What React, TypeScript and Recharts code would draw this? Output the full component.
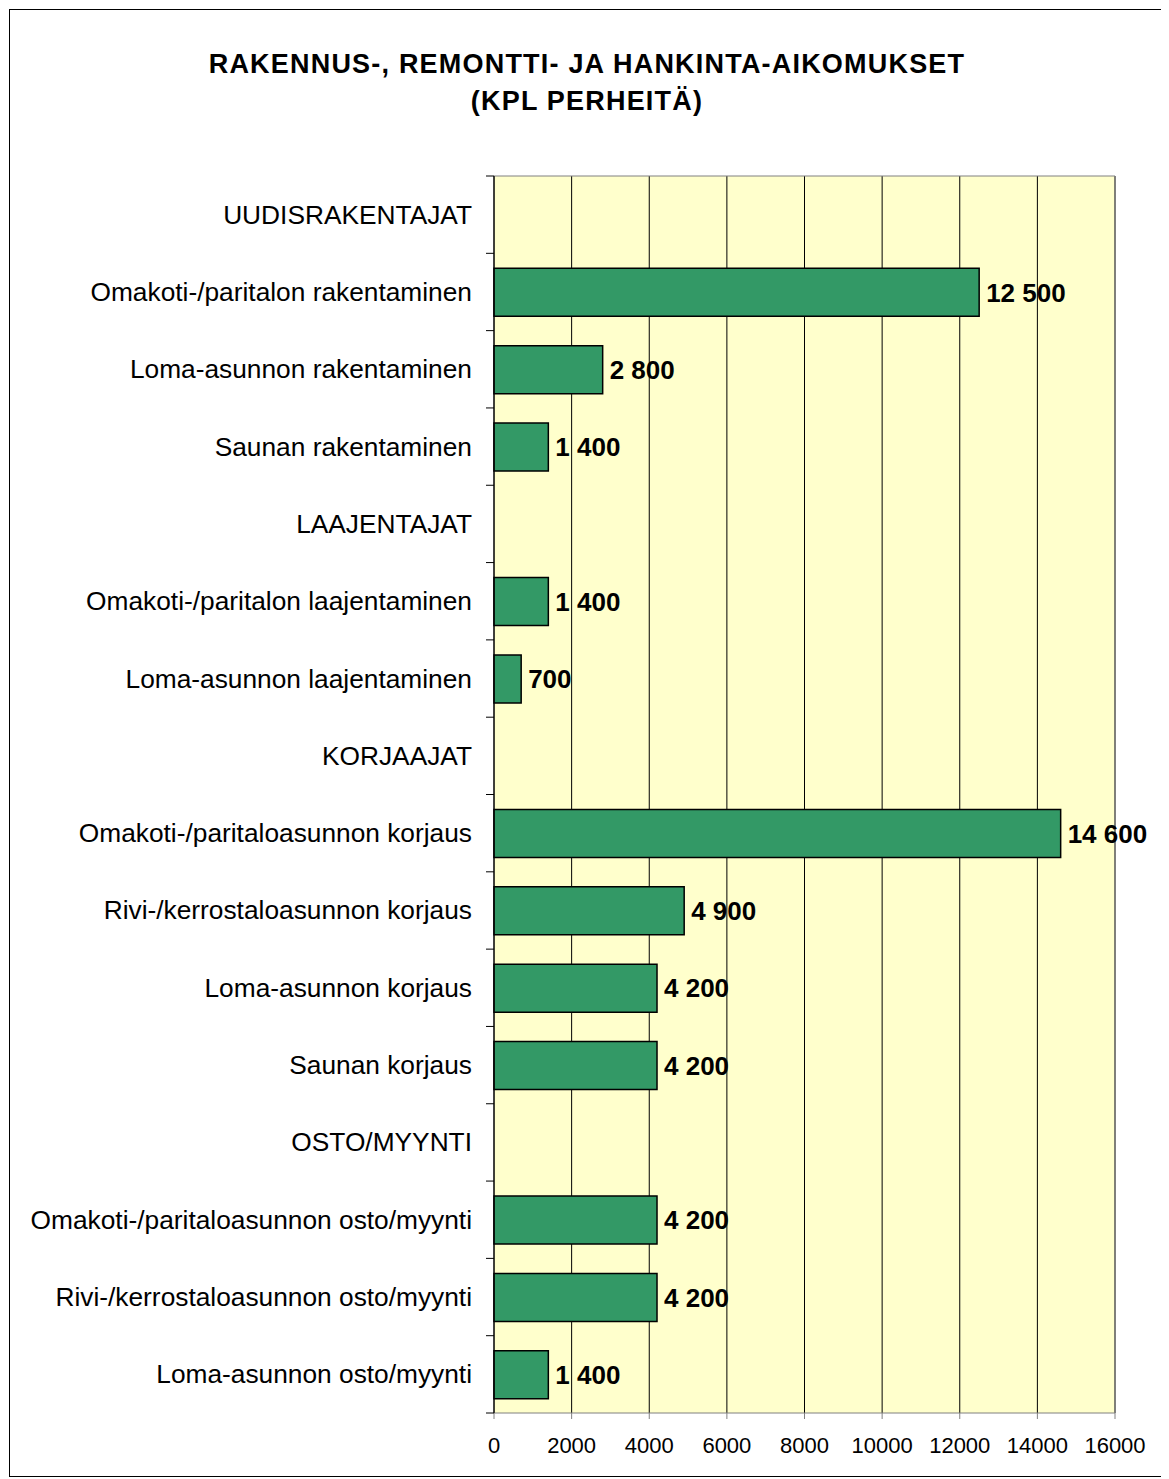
import React from "react";
import {
  BarChart,
  Bar,
  XAxis,
  YAxis,
  CartesianGrid,
  LabelList,
  ReferenceLine,
} from "recharts";

const categories = [
  "UUDISRAKENTAJAT",
  "Omakoti-/paritalon rakentaminen",
  "Loma-asunnon rakentaminen",
  "Saunan rakentaminen",
  "LAAJENTAJAT",
  "Omakoti-/paritalon laajentaminen",
  "Loma-asunnon laajentaminen",
  "KORJAAJAT",
  "Omakoti-/paritaloasunnon korjaus",
  "Rivi-/kerrostaloasunnon korjaus",
  "Loma-asunnon korjaus",
  "Saunan korjaus",
  "OSTO/MYYNTI",
  "Omakoti-/paritaloasunnon osto/myynti",
  "Rivi-/kerrostaloasunnon osto/myynti",
  "Loma-asunnon osto/myynti",
];

const values: (number | null)[] = [
  null, 12500, 2800, 1400,
  null, 1400, 700,
  null, 14600, 4900, 4200, 4200,
  null, 4200, 4200, 1400,
];

const xTicks = [0, 2000, 4000, 6000, 8000, 10000, 12000, 14000, 16000];

const data = categories.map((name, i) => ({ name, value: values[i] }));

const FONT = '"Liberation Sans", Arial, sans-serif';
const W = 1154;
const H = 1466;
const PLOT_LEFT = 484;
const PLOT_TOP = 166;
const PLOT_BOTTOM = 1403;
const BAND = (PLOT_BOTTOM - PLOT_TOP) / categories.length;

// 12500 -> "12 500", empty for header rows
const fmt = (v: any) => {
  if (v === null || v === undefined || v === 0) return "";
  return String(v).replace(/\B(?=(\d{3})+(?!\d))/g, " ");
};

const CategoryTick = (props: any) => {
  const { y, payload, index } = props;
  const top = y - BAND / 2;
  return (
    <g>
      <line x1={PLOT_LEFT - 8} x2={PLOT_LEFT} y1={top} y2={top} stroke="#000" />
      {index === categories.length - 1 && (
        <line
          x1={PLOT_LEFT - 8}
          x2={PLOT_LEFT}
          y1={top + BAND}
          y2={top + BAND}
          stroke="#000"
        />
      )}
      <text
        x={PLOT_LEFT - 22}
        y={y}
        textAnchor="end"
        dominantBaseline="central"
        fontSize={26.3}
        fontFamily={FONT}
        fill="#000"
      >
        {payload.value}
      </text>
    </g>
  );
};

export default function App() {
  return (
    <div
      style={{
        position: "relative",
        width: W,
        height: H,
        border: "1px solid #000",
        marginLeft: 1,
        marginTop: 1,
        background: "#fff",
        fontFamily: FONT,
      }}
    >
      <div
        style={{
          position: "absolute",
          top: 36,
          left: 0,
          width: W,
          textAlign: "center",
          fontWeight: "bold",
          fontSize: 27,
          lineHeight: "37px",
          letterSpacing: 1.2,
          color: "#000",
        }}
      >
        RAKENNUS-, REMONTTI- JA HANKINTA-AIKOMUKSET
        <br />
        (KPL PERHEITÄ)
      </div>
      <BarChart
        width={W}
        height={H}
        data={data}
        layout="vertical"
        margin={{ top: PLOT_TOP, right: 49, bottom: 13, left: 0 }}
        barSize={48}
      >
        <CartesianGrid
          horizontal={false}
          stroke="#000"
          fill="#FFFFCC"
          fillOpacity={1}
        />
        <CartesianGrid
          vertical={false}
          horizontalPoints={[PLOT_TOP]}
          stroke="#808080"
        />
        <XAxis
          type="number"
          domain={[0, 16000]}
          ticks={xTicks}
          interval={0}
          height={50}
          tickSize={6}
          tickMargin={18}
          stroke="#808080"
          tick={{ fill: "#000", fontSize: 22, fontFamily: FONT }}
        />
        <YAxis
          type="category"
          dataKey="name"
          width={PLOT_LEFT}
          interval={0}
          tickLine={false}
          stroke="#000"
          tick={<CategoryTick />}
        />
        <ReferenceLine x={16000} stroke="#808080" />
        <Bar
          dataKey="value"
          fill="#339966"
          stroke="#000"
          strokeWidth={1.5}
          isAnimationActive={false}
        >
          <LabelList
            dataKey="value"
            position="right"
            offset={7}
            formatter={fmt}
            style={{ fontWeight: "bold", fontSize: 26, fontFamily: FONT, fill: "#000" }}
          />
        </Bar>
      </BarChart>
    </div>
  );
}
